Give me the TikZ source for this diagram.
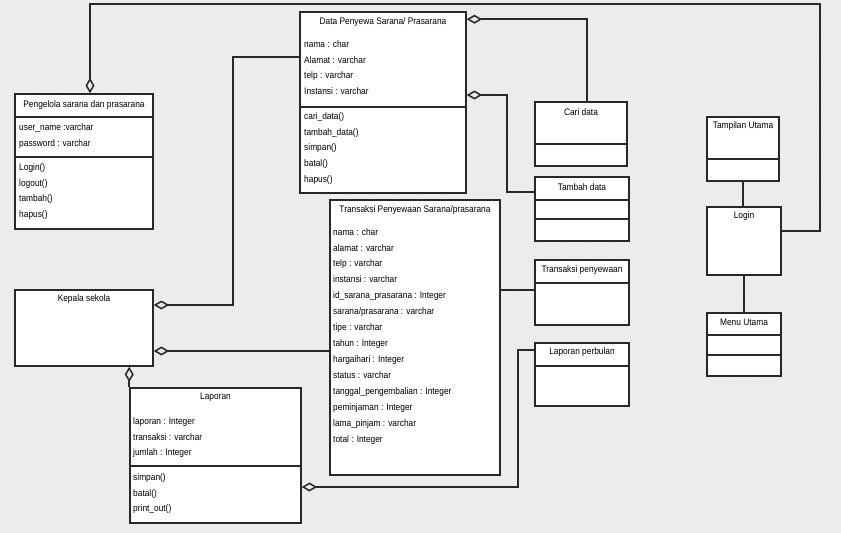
\documentclass[tikz,border=0pt]{standalone}
\usepackage{fontspec}
\setmainfont{Liberation Sans}[FakeStretch=0.88]
\usepackage{tikz}
\usetikzlibrary{arrows.meta,calc,fit,positioning}
\definecolor{umlline}{RGB}{40,40,40}
\definecolor{sheet}{RGB}{236,236,236}
\definecolor{griddot}{RGB}{200,200,200}
\tikzset{
  umlbox/.style={
    draw = umlline,
    line width = 1.3pt,
    fill = white,
    inner sep = 0pt,
    shape = rectangle
  },
  conn/.style={
    draw = umlline,
    line width = 1.3pt
  },
  agg/.style={
    conn,
    -{Diamond[open, length=4.6mm, width=2.7mm]}
  },
  title/.style={
    font = \fontsize{8.1}{9}\selectfont,
    inner sep = 0pt
  },
  members/.style={
    font = \fontsize{8.1}{13.6}\selectfont,
    align = left,
    anchor = north west,
    inner sep = 0pt
  }
}
\begin{document}
\begin{tikzpicture}[x=0.03cm, y=-0.03cm]
        \useasboundingbox (0,0) rectangle (841,533);
        \fill[sheet] (0,0) rectangle (841,533);
        \foreach \i in {6,18,...,840}
          \foreach \j in {6,18,...,532}
            \fill[griddot] (\i,\j) circle (0.4pt);

        % class boxes
        \node[umlbox, fit={(15,94) (153,229)}] (pengelola) {};
        \node[umlbox, fit={(300,12) (466,193)}] (penyewa) {};
        \node[umlbox, fit={(15,290) (153,366)}] (kepala) {};
        \node[umlbox, fit={(130,388) (301,523)}] (laporan) {};
        \node[umlbox, fit={(330,200) (500,475)}] (transaksi) {};
        \node[umlbox, fit={(535,102) (627,166)}] (caridata) {};
        \node[umlbox, fit={(535,177) (629,241)}] (tambahdata) {};
        \node[umlbox, fit={(535,260) (629,325)}] (sewa) {};
        \node[umlbox, fit={(535,343) (629,406)}] (lapbulan) {};
        \node[umlbox, fit={(707,117) (779,181)}] (tampilan) {};
        \node[umlbox, fit={(707,207) (781,275)}] (login) {};
        \node[umlbox, fit={(707,313) (781,376)}] (menu) {};

        % compartments
        \draw[conn] (pengelola.west |- 0,117) -- (pengelola.east |- 0,117);
        \draw[conn] (pengelola.west |- 0,157) -- (pengelola.east |- 0,157);
        \draw[conn] (penyewa.west |- 0,107) -- (penyewa.east |- 0,107);
        \draw[conn] (laporan.west |- 0,466) -- (laporan.east |- 0,466);
        \draw[conn] (caridata.west |- 0,144) -- (caridata.east |- 0,144);
        \draw[conn] (tambahdata.west |- 0,200) -- (tambahdata.east |- 0,200);
        \draw[conn] (tambahdata.west |- 0,219) -- (tambahdata.east |- 0,219);
        \draw[conn] (sewa.west |- 0,283) -- (sewa.east |- 0,283);
        \draw[conn] (lapbulan.west |- 0,366) -- (lapbulan.east |- 0,366);
        \draw[conn] (tampilan.west |- 0,159) -- (tampilan.east |- 0,159);
        \draw[conn] (menu.west |- 0,335) -- (menu.east |- 0,335);
        \draw[conn] (menu.west |- 0,355) -- (menu.east |- 0,355);

        % titles
        \node[title] (pengelola-t) at (pengelola.north |- 0,105) {Pengelola sarana dan prasarana};
        \node[title] (penyewa-t) at (penyewa.north |- 0,22) {Data Penyewa Sarana/ Prasarana};
        \node[title] (kepala-t) at (kepala.north |- 0,299) {Kepala sekola};
        \node[title] (laporan-t) at (laporan.north |- 0,397) {Laporan};
        \node[title] (transaksi-t) at (transaksi.north |- 0,210) {Transaksi Penyewaan Sarana/prasarana};
        \node[title] (caridata-t) at (caridata.north |- 0,112) {Cari data};
        \node[title] (tambahdata-t) at (tambahdata.north |- 0,187) {Tambah data};
        \node[title] (sewa-t) at (sewa.north |- 0,270) {Transaksi penyewaan};
        \node[title] (lapbulan-t) at (lapbulan.north |- 0,352) {Laporan perbulan};
        \node[title] (tampilan-t) at (tampilan.north |- 0,126) {Tampilan Utama};
        \node[title] (login-t) at (login.north |- 0,216) {Login};
        \node[title] (menu-t) at (menu.north |- 0,322) {Menu Utama};

        % attributes and operations
        \node[members] (pengelola-a) at (19,123) {user\_name :varchar\\password : varchar};
        \node[members] (pengelola-o) at (19,163) {Login()\\logout()\\tambah()\\hapus()};
        \node[members] (penyewa-a) at (304,40) {nama : char\\Alamat : varchar\\telp : varchar\\Instansi : varchar};
        \node[members] (penyewa-o) at (304,112) {cari\_data()\\tambah\_data()\\simpan()\\batal()\\hapus()};
        \node[members] (transaksi-a) at (333,228) {nama : char\\alamat : varchar\\telp : varchar\\instansi : varchar\\id\_sarana\_prasarana : Integer\\sarana/prasarana : varchar\\tipe : varchar\\tahun : Integer\\hargaihari : Integer\\status : varchar\\tanggal\_pengembalian : Integer\\peminjaman : Integer\\lama\_pinjam : varchar\\total : Integer};
        \node[members] (laporan-a) at (133,417) {laporan : Integer\\transaksi : varchar\\jumlah : Integer};
        \node[members] (laporan-o) at (133,473) {simpan()\\batal()\\print\_out()};

        % connectors
        \draw[agg] ($(login.east)+(0,-10)$) -| (820,4) -| ($(pengelola.north)+(6,0)$);
        \draw[agg] ($(caridata.north)+(6,0)$) |- ($(penyewa.north east)+(0,8)$);
        \draw[agg] ($(tambahdata.north west)+(0,16)$) -| (507,95) -- (penyewa.east |- 0,95);
        \draw[agg] (penyewa.west |- 0,57) -| (233,305) -- (kepala.east |- 0,305);
        \draw[agg] (transaksi.west |- 0,351) -- (kepala.east |- 0,351);
        \draw[agg] (laporan.north west) -- (kepala.south -| laporan.north west);
        \draw[agg] ($(lapbulan.north west)+(0,8)$) -| (518,487) -- (laporan.east |- 0,487);
        \draw[conn] (sewa.west |- 0,290) -- (transaksi.east |- 0,290);
        \draw[conn] (tampilan.south) -- (tampilan.south |- login.north);
        \draw[conn] (login.south) -- (login.south |- menu.north);
\end{tikzpicture}
\end{document}
